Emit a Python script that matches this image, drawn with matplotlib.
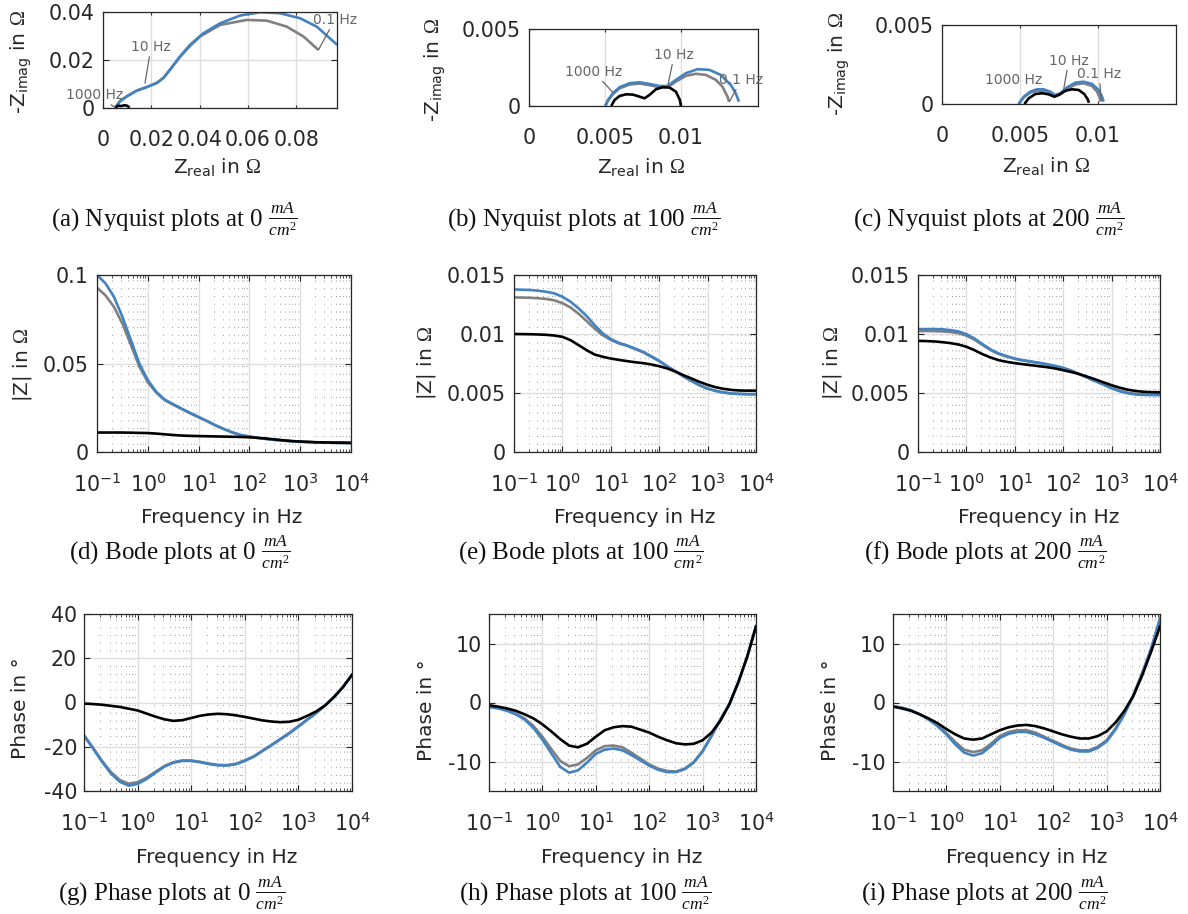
import numpy as np
import matplotlib
matplotlib.use("Agg")
import matplotlib.pyplot as plt
from matplotlib.ticker import LogLocator, NullFormatter

plt.rcParams['font.family'] = ['DejaVu Sans']
plt.rcParams['mathtext.fontset'] = 'custom'
plt.rcParams['mathtext.rm'] = 'Liberation Serif'
plt.rcParams['mathtext.it'] = 'Liberation Serif:italic'
plt.rcParams['mathtext.bf'] = 'Liberation Serif:bold'

# ---------------- data ----------------
FREQ = np.logspace(-1, 4, 31)   # Hz, 6 points per decade

# |Z| in Ohm  (0, 100, 200 mA/cm^2)
MAG0_BLACK = [0.0110, 0.0110, 0.0110, 0.0110, 0.0109, 0.0108, 0.0107, 0.0104, 0.0100, 0.0096, 0.0093, 0.0091, 0.0090, 0.0089, 0.0088, 0.0087,
              0.0086, 0.0085, 0.0083, 0.0080, 0.0076, 0.0071, 0.0066, 0.0062, 0.0059, 0.0057, 0.0055, 0.0054, 0.0053, 0.0053, 0.0052]
MAG0_GRAY = [0.0928, 0.0885, 0.0820, 0.0725, 0.0605, 0.0483, 0.0395, 0.0335, 0.0293, 0.0267, 0.0243, 0.0219, 0.0196, 0.0174, 0.0150, 0.0129,
             0.0110, 0.0095, 0.0087, 0.0079, 0.0073, 0.0068, 0.0064, 0.0060, 0.0058, 0.0056, 0.0054, 0.0053, 0.0052, 0.0051, 0.0050]
MAG0_BLUE = [0.1000, 0.0953, 0.0877, 0.0764, 0.0632, 0.0500, 0.0406, 0.0340, 0.0296, 0.0270, 0.0245, 0.0221, 0.0198, 0.0175, 0.0151, 0.0130,
             0.0111, 0.0096, 0.0088, 0.0080, 0.0074, 0.0069, 0.0065, 0.0061, 0.0058, 0.0056, 0.0054, 0.0053, 0.0052, 0.0051, 0.0050]

MAG100_BLACK = [0.01000, 0.00999, 0.00998, 0.00996, 0.00993, 0.00987, 0.00976, 0.00948, 0.00906, 0.00863, 0.00826, 0.00807, 0.00792, 0.00781,
                0.00770, 0.00761, 0.00753, 0.00742, 0.00727, 0.00708, 0.00682, 0.00651, 0.00623, 0.00594, 0.00569, 0.00549, 0.00535, 0.00526,
                0.00521, 0.00520, 0.00520]
MAG100_GRAY = [0.01310, 0.01309, 0.01307, 0.01303, 0.01297, 0.01285, 0.01262, 0.01225, 0.01172, 0.01110, 0.01045, 0.00990, 0.00950, 0.00920,
               0.00900, 0.00873, 0.00845, 0.00808, 0.00770, 0.00724, 0.00683, 0.00640, 0.00601, 0.00565, 0.00537, 0.00518, 0.00504, 0.00496,
               0.00492, 0.00490, 0.00490]
MAG100_BLUE = [0.01378, 0.01375, 0.01373, 0.01367, 0.01358, 0.01344, 0.01316, 0.01274, 0.01217, 0.01152, 0.01075, 0.01005, 0.00957, 0.00925,
               0.00903, 0.00877, 0.00849, 0.00812, 0.00773, 0.00727, 0.00685, 0.00642, 0.00603, 0.00566, 0.00538, 0.00518, 0.00504, 0.00495,
               0.00492, 0.00490, 0.00490]

MAG200_BLACK = [0.00942, 0.00940, 0.00937, 0.00931, 0.00923, 0.00911, 0.00892, 0.00863, 0.00829, 0.00801, 0.00778, 0.00764, 0.00753, 0.00744,
                0.00736, 0.00727, 0.00719, 0.00708, 0.00693, 0.00678, 0.00660, 0.00638, 0.00615, 0.00590, 0.00566, 0.00545, 0.00528, 0.00517,
                0.00510, 0.00507, 0.00506]
MAG200_GRAY = [0.01025, 0.01025, 0.01024, 0.01022, 0.01017, 0.01007, 0.00986, 0.00952, 0.00907, 0.00864, 0.00831, 0.00809, 0.00790, 0.00776,
               0.00765, 0.00754, 0.00742, 0.00728, 0.00711, 0.00689, 0.00660, 0.00631, 0.00602, 0.00573, 0.00544, 0.00519, 0.00502, 0.00492,
               0.00488, 0.00486, 0.00486]
MAG200_BLUE = [0.01042, 0.01042, 0.01042, 0.01040, 0.01033, 0.01022, 0.00999, 0.00962, 0.00914, 0.00869, 0.00835, 0.00812, 0.00792, 0.00778,
               0.00767, 0.00756, 0.00744, 0.00730, 0.00713, 0.00690, 0.00660, 0.00630, 0.00600, 0.00570, 0.00540, 0.00515, 0.00498, 0.00488,
               0.00484, 0.00482, 0.00482]

# phase in degree
PH0_BLACK = [-0.5, -0.7, -1.0, -1.5, -2.0, -2.8, -3.6, -5.0, -6.4, -7.6, -8.3, -8.0, -7.0, -6.0, -5.4, -5.1, -5.3, -5.8, -6.5, -7.3, -8.1,
             -8.6, -8.9, -8.7, -7.8, -6.0, -4.0, -1.3, 2.5, 7.0, 12.5]
PH0_GRAY = [-14.8, -20.4, -26.3, -31.4, -35.0, -36.7, -36.0, -34.0, -31.3, -28.7, -27.0, -26.2, -26.2, -26.8, -27.6, -28.2, -28.3, -27.7,
            -26.2, -24.3, -21.7, -19.1, -16.4, -13.7, -10.7, -7.6, -4.7, -1.2, 2.6, 7.1, 12.5]
PH0_BLUE = [-15.0, -20.7, -26.7, -32.0, -35.8, -37.6, -36.8, -34.6, -31.7, -29.0, -27.2, -26.4, -26.4, -27.0, -27.8, -28.4, -28.5, -27.9,
            -26.4, -24.5, -21.9, -19.3, -16.6, -13.9, -10.9, -7.8, -4.8, -1.3, 2.6, 7.1, 12.5]

PH100_BLACK = [-0.46, -0.7, -1.0, -1.4, -2.0, -2.7, -3.7, -4.9, -6.2, -7.3, -7.6, -7.0, -5.8, -4.7, -4.2, -4.0, -4.1, -4.6, -5.1, -5.8, -6.4,
               -6.9, -7.1, -7.0, -6.4, -5.1, -3.1, -0.3, 3.4, 7.7, 12.9]
PH100_GRAY = [-0.7, -0.95, -1.3, -1.9, -2.7, -4.0, -5.8, -7.9, -9.9, -10.8, -10.5, -9.4, -8.1, -7.4, -7.3, -7.6, -8.5, -9.5, -10.5, -11.2,
              -11.6, -11.7, -11.2, -10.1, -8.2, -5.6, -2.8, -0.3, 3.4, 7.7, 12.9]
PH100_BLUE = [-0.75, -1.0, -1.4, -2.0, -2.9, -4.3, -6.3, -8.6, -10.9, -11.9, -11.5, -10.2, -8.7, -8.0, -7.8, -8.1, -8.9, -9.8, -10.7, -11.4,
              -11.8, -11.8, -11.3, -10.2, -8.3, -5.7, -2.9, -0.4, 3.3, 7.7, 12.9]

PH200_BLACK = [-0.7, -1.0, -1.4, -2.0, -2.7, -3.5, -4.5, -5.4, -6.1, -6.3, -6.1, -5.4, -4.7, -4.2, -3.9, -3.8, -4.0, -4.4, -4.9, -5.4, -5.8,
               -6.1, -6.1, -5.7, -4.9, -3.4, -1.4, 1.1, 4.6, 8.6, 12.9]
PH200_GRAY = [-0.6, -0.9, -1.3, -2.0, -2.8, -3.9, -5.2, -6.7, -8.0, -8.4, -8.1, -7.0, -5.7, -5.0, -4.7, -4.7, -5.1, -5.8, -6.5, -7.2, -7.8,
              -8.1, -8.1, -7.5, -6.4, -4.4, -1.8, 1.3, 5.0, 9.1, 14.0]
PH200_BLUE = [-0.6, -0.9, -1.3, -2.0, -2.9, -4.0, -5.4, -7.1, -8.5, -9.0, -8.6, -7.4, -6.0, -5.3, -5.0, -5.0, -5.4, -6.0, -6.7, -7.4, -8.0,
              -8.3, -8.3, -7.7, -6.6, -4.6, -2.0, 1.1, 4.9, 9.1, 14.3]

# Nyquist: Z_real and -Z_imag in Ohm
NYQ0_BLACK_RE = [0.0052, 0.0056, 0.0062, 0.0068, 0.0074, 0.0080, 0.0087, 0.0094, 0.0100, 0.0106, 0.0109]
NYQ0_BLACK_IM = [0.0000, 0.0006, 0.0009, 0.0009, 0.0008, 0.0009, 0.0011, 0.0011, 0.0009, 0.0005, 0.0001]
NYQ0_GRAY_RE = [0.0050, 0.0070, 0.0098, 0.0139, 0.0181, 0.0222, 0.0250, 0.0277, 0.0319, 0.0360, 0.0402, 0.0485, 0.0595, 0.0678, 0.0761,
                0.0830, 0.0892]
NYQ0_GRAY_IM = [0.0000, 0.0028, 0.0048, 0.0072, 0.0087, 0.0104, 0.0125, 0.0159, 0.0213, 0.0258, 0.0298, 0.0346, 0.0367, 0.0364, 0.0339,
                0.0298, 0.0242]
NYQ0_BLUE_RE = [0.0050, 0.0070, 0.0098, 0.0139, 0.0181, 0.0222, 0.0250, 0.0277, 0.0319, 0.0360, 0.0415, 0.0485, 0.0567, 0.0650, 0.0733,
                0.0816, 0.0885, 0.0970]
NYQ0_BLUE_IM = [0.0000, 0.0028, 0.0048, 0.0072, 0.0087, 0.0104, 0.0125, 0.0159, 0.0215, 0.0263, 0.0311, 0.0353, 0.0385, 0.0399, 0.0395,
                0.0374, 0.0339, 0.0263]

NYQ100_BLACK_RE = [0.00541, 0.00563, 0.00596, 0.00640, 0.00683, 0.00727, 0.00760, 0.00793, 0.00836, 0.00880, 0.00924, 0.00967, 0.00993, 0.01000]
NYQ100_BLACK_IM = [0.0, 0.00039, 0.00065, 0.00076, 0.00074, 0.00061, 0.00050, 0.00072, 0.00109, 0.00122, 0.00120, 0.00093, 0.00039, 0.0]
NYQ100_GRAY_RE = [0.00502, 0.00520, 0.00552, 0.00596, 0.00662, 0.00727, 0.00793, 0.00858, 0.00913, 0.00967, 0.01033, 0.01098, 0.01164,
                  0.01229, 0.01273, 0.01306, 0.01317]
NYQ100_GRAY_IM = [0.0, 0.00035, 0.00076, 0.00115, 0.00139, 0.00146, 0.00135, 0.00122, 0.00122, 0.00159, 0.00196, 0.00209, 0.00202,
                  0.00170, 0.00126, 0.00061, 0.00028]
NYQ100_BLUE_RE = [0.00502, 0.00520, 0.00552, 0.00596, 0.00662, 0.00727, 0.00793, 0.00858, 0.00913, 0.00967, 0.01033, 0.01109, 0.01186,
                  0.01262, 0.01328, 0.01360, 0.01382]
NYQ100_BLUE_IM = [0.0, 0.00039, 0.00083, 0.00122, 0.00148, 0.00154, 0.00143, 0.00130, 0.00130, 0.00170, 0.00213, 0.00239, 0.00235,
                  0.00202, 0.00137, 0.00083, 0.00028]

NYQ200_BLACK_RE = [0.00528, 0.00556, 0.00598, 0.00641, 0.00684, 0.00720, 0.00748, 0.00791, 0.00833, 0.00876, 0.00912, 0.00934, 0.00942]
NYQ200_BLACK_IM = [0.0, 0.00036, 0.00063, 0.00068, 0.00061, 0.00046, 0.00057, 0.00084, 0.00093, 0.00089, 0.00063, 0.00030, 0.00008]
NYQ200_GRAY_RE = [0.00491, 0.00524, 0.00566, 0.00609, 0.00652, 0.00694, 0.00726, 0.00759, 0.00801, 0.00855, 0.00908, 0.00962, 0.00994,
                  0.01011, 0.01019]
NYQ200_GRAY_IM = [0.0, 0.00042, 0.00072, 0.00084, 0.00084, 0.00072, 0.00053, 0.00061, 0.00095, 0.00124, 0.00131, 0.00114, 0.00078,
                  0.00042, 0.00015]
NYQ200_BLUE_RE = [0.00491, 0.00524, 0.00566, 0.00609, 0.00652, 0.00694, 0.00726, 0.00759, 0.00801, 0.00855, 0.00908, 0.00962, 0.01004,
                  0.01026, 0.01036]
NYQ200_BLUE_IM = [0.0, 0.00046, 0.00078, 0.00093, 0.00093, 0.00078, 0.00057, 0.00068, 0.00105, 0.00135, 0.00141, 0.00127, 0.00089,
                  0.00046, 0.00015]

FREQ_LABELS = ['1000 Hz', '10 Hz', '0.1 Hz']
# annotation text anchors and target points (Z_real, -Z_imag)
ANN0 = [((-0.0033, 0.0054), (0.0050, 0.0003)), ((0.0199, 0.0254), (0.0174, 0.0104)), ((0.0960, 0.0367), (0.0892, 0.0242))]
ANN100 = [((0.00426, 0.00224), (0.0055, 0.0009)), ((0.00956, 0.00333), (0.00913, 0.0013)), ((0.01397, 0.0017), (0.0132, 0.0003))]
ANN200 = [((0.00459, 0.00152), (0.0059, 0.0009)), ((0.00812, 0.00274), (0.0078, 0.00093)), ((0.01009, 0.0019), (0.0102, 0.0002))]

CURRENTS = ['0', '100', '200']
LETTERS = [['a', 'b', 'c'], ['d', 'e', 'f'], ['g', 'h', 'i']]

# ---------------- style ----------------
C_BLACK = '#000000'
C_GRAY = '#808080'
C_BLUE = '#4382c0'
AX_COL = '#262626'
LW = 1.9
TICK_FS = 14.8
LAB_FS = 14.5
OHM = '$\\Omega$'

W, H = 1188, 914
fig = plt.figure(figsize=(W / 100, H / 100), dpi=100)


def add_ax(l, t, r, b):
    return fig.add_axes([l / W, 1 - b / H, (r - l) / W, (b - t) / H])


def style(ax, log=False, xpad=6, ypad=6):
    for s in ax.spines.values():
        s.set_color(AX_COL)
        s.set_linewidth(0.9)
    ax.tick_params(which='major', direction='in', top=True, right=True, length=4.5, width=0.8,
                   colors=AX_COL, labelsize=TICK_FS)
    ax.tick_params(which='minor', direction='in', top=True, right=True, length=2.5, width=0.6, colors=AX_COL)
    ax.tick_params(axis='x', which='major', pad=xpad)
    ax.tick_params(axis='y', which='major', pad=ypad)
    ax.grid(True, which='major', color='#dedede', lw=1.0)
    if log:
        ax.set_xscale('log')
        ax.set_xlim(0.1, 1e4)
        ax.xaxis.set_major_locator(LogLocator(base=10, numticks=12))
        ax.xaxis.set_minor_locator(LogLocator(base=10, subs=np.arange(2, 10), numticks=12))
        ax.xaxis.set_minor_formatter(NullFormatter())
        ax.grid(True, which='minor', axis='x', color='#9a9a9a', lw=0.7, ls=(0, (1, 7)))
    ax.set_axisbelow(True)


def fig_text(x, y, s, **kw):
    fig.text(x / W, 1 - y / H, s, **kw)


# ---------------- Nyquist row ----------------
nyq_boxes = [(103, 12, 337, 108), (529, 29, 758, 106), (942, 25, 1176, 104)]
nyq_xlim = [(0, 0.0969), (0, 0.01507), (0, 0.0150)]
nyq_ylim = [(0, 0.04), (0, 0.005), (0, 0.005)]
nyq_xticks = [[0, 0.02, 0.04, 0.06, 0.08], [0, 0.005, 0.01], [0, 0.005, 0.01]]
nyq_xlabels = [['0', '0.02', '0.04', '0.06', '0.08'], ['0', '0.005', '0.01'], ['0', '0.005', '0.01']]
nyq_yticks = [[0, 0.02, 0.04], [0, 0.005], [0, 0.005]]
nyq_ylabels = [['0', '0.02', '0.04'], ['0', '0.005'], ['0', '0.005']]
nyq_data = [
    (NYQ0_BLACK_RE, NYQ0_BLACK_IM, NYQ0_GRAY_RE, NYQ0_GRAY_IM, NYQ0_BLUE_RE, NYQ0_BLUE_IM, ANN0),
    (NYQ100_BLACK_RE, NYQ100_BLACK_IM, NYQ100_GRAY_RE, NYQ100_GRAY_IM, NYQ100_BLUE_RE, NYQ100_BLUE_IM, ANN100),
    (NYQ200_BLACK_RE, NYQ200_BLACK_IM, NYQ200_GRAY_RE, NYQ200_GRAY_IM, NYQ200_BLUE_RE, NYQ200_BLUE_IM, ANN200),
]
nyq_ylab_pos = [(21, 62), (435, 70), (839, 64)]
nyq_xlab_pos = [(217, 173), (641, 173), (1046, 172)]

for i in range(3):
    ax = add_ax(*nyq_boxes[i])
    style(ax, xpad=16, ypad=6)
    bre, bim, gre, gim, ure, uim, ann = nyq_data[i]
    ax.plot(gre, gim, color=C_GRAY, lw=LW, solid_joinstyle='round', solid_capstyle='butt')
    ax.plot(ure, uim, color=C_BLUE, lw=LW, solid_joinstyle='round', solid_capstyle='butt')
    ax.plot(bre, bim, color=C_BLACK, lw=LW, solid_joinstyle='round', solid_capstyle='butt')
    ax.set_xlim(*nyq_xlim[i])
    ax.set_ylim(*nyq_ylim[i])
    ax.set_xticks(nyq_xticks[i], labels=nyq_xlabels[i])
    ax.set_yticks(nyq_yticks[i], labels=nyq_ylabels[i])
    ax.tick_params(axis='x', which='major', length=2)
    for lab, (txy, pxy) in zip(FREQ_LABELS, ann):
        ax.annotate(lab, xy=pxy, xytext=txy, textcoords='data', ha='center', va='center',
                    fontsize=10, color='#666666', annotation_clip=False,
                    arrowprops=dict(arrowstyle='-', color='#666666', lw=0.9, shrinkA=0, shrinkB=0))
    x, y = nyq_ylab_pos[i]
    fig_text(x, y, '-Z$_\\mathdefault{imag}$ in ' + OHM, rotation=90, ha='center', va='center',
             fontsize=LAB_FS, color=AX_COL)
    x, y = nyq_xlab_pos[i]
    fig_text(x, y, 'Z$_\\mathdefault{real}$ in ' + OHM, ha='center', va='baseline', fontsize=LAB_FS, color=AX_COL)

# ---------------- Bode row ----------------
bode_boxes = [(97, 275, 351, 452), (514, 275, 756, 452), (918, 275, 1160, 452)]
bode_ylim = [(0, 0.1), (0, 0.015), (0, 0.015)]
bode_yticks = [[0, 0.05, 0.1], [0, 0.005, 0.01, 0.015], [0, 0.005, 0.01, 0.015]]
bode_ylabels = [['0', '0.05', '0.1'], ['0', '0.005', '0.01', '0.015'], ['0', '0.005', '0.01', '0.015']]
bode_data = [(MAG0_BLACK, MAG0_GRAY, MAG0_BLUE), (MAG100_BLACK, MAG100_GRAY, MAG100_BLUE),
             (MAG200_BLACK, MAG200_GRAY, MAG200_BLUE)]
bode_ylab_pos = [(22, 365), (427, 363), (832, 363)]
bode_xlab_pos = [(222, 523), (635, 523), (1039, 523)]

for i in range(3):
    ax = add_ax(*bode_boxes[i])
    style(ax, log=True, xpad=15, ypad=6)
    blk, gry, blu = bode_data[i]
    ax.plot(FREQ, gry, color=C_GRAY, lw=LW, solid_joinstyle='round')
    ax.plot(FREQ, blu, color=C_BLUE, lw=LW, solid_joinstyle='round')
    ax.plot(FREQ, blk, color=C_BLACK, lw=LW, solid_joinstyle='round')
    ax.set_ylim(*bode_ylim[i])
    ax.set_yticks(bode_yticks[i], labels=bode_ylabels[i])
    x, y = bode_ylab_pos[i]
    fig_text(x, y, '|Z| in ' + OHM, rotation=90, ha='center', va='center', fontsize=LAB_FS, color=AX_COL)
    x, y = bode_xlab_pos[i]
    fig_text(x, y, 'Frequency in Hz', ha='center', va='baseline', fontsize=LAB_FS, color=AX_COL)

# ---------------- Phase row ----------------
ph_boxes = [(84, 614, 352, 791), (489, 614, 756, 791), (893, 614, 1160, 791)]
ph_ylim = [(-40, 40), (-15, 15), (-15, 15)]
ph_yticks = [[-40, -20, 0, 20, 40], [-10, 0, 10], [-10, 0, 10]]
ph_ylabels = [['-40', '-20', '0', '20', '40'], ['-10', '0', '10'], ['-10', '0', '10']]
ph_data = [(PH0_BLACK, PH0_GRAY, PH0_BLUE), (PH100_BLACK, PH100_GRAY, PH100_BLUE),
           (PH200_BLACK, PH200_GRAY, PH200_BLUE)]
ph_ylab_pos = [(21, 708), (426, 710), (830, 710)]
ph_xlab_pos = [(217, 863), (622, 863), (1027, 863)]

for i in range(3):
    ax = add_ax(*ph_boxes[i])
    style(ax, log=True, xpad=15, ypad=5)
    blk, gry, blu = ph_data[i]
    ax.plot(FREQ, gry, color=C_GRAY, lw=LW, solid_joinstyle='round')
    ax.plot(FREQ, blu, color=C_BLUE, lw=LW, solid_joinstyle='round')
    ax.plot(FREQ, blk, color=C_BLACK, lw=LW, solid_joinstyle='round')
    ax.set_ylim(*ph_ylim[i])
    ax.set_yticks(ph_yticks[i], labels=ph_ylabels[i])
    x, y = ph_ylab_pos[i]
    fig_text(x, y, 'Phase in \u00b0', rotation=90, ha='center', va='center', fontsize=LAB_FS, color=AX_COL)
    x, y = ph_xlab_pos[i]
    fig_text(x, y, 'Frequency in Hz', ha='center', va='baseline', fontsize=LAB_FS, color=AX_COL)

# ---------------- captions ----------------
cap_kind = ['Nyquist plots', 'Bode plots', 'Phase plots']
cap_x = [[174, 584, 989], [180, 581, 985], [172, 585, 984]]
cap_y = [226, 559, 900]
for r in range(3):
    for c in range(3):
        s = '(%s) %s at %s $\\frac{mA}{cm^2}$' % (LETTERS[r][c], cap_kind[r], CURRENTS[c])
        fig_text(cap_x[r][c], cap_y[r], s, ha='center', va='baseline', fontsize=18,
                 family=['Liberation Serif', 'DejaVu Serif'], color='#111111')

fig.savefig('out.png', dpi=100)
